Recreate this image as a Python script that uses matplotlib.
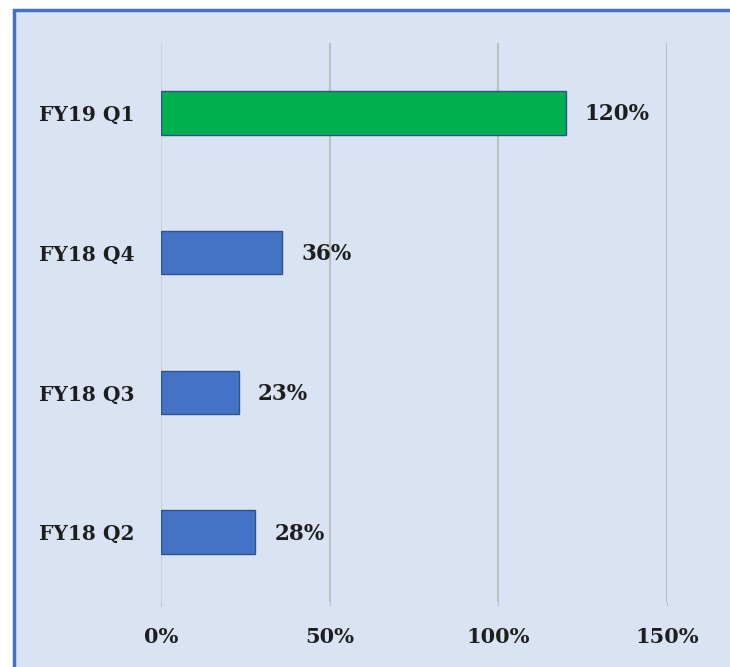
import matplotlib.pyplot as plt
from matplotlib.patches import Rectangle
from matplotlib.ticker import PercentFormatter

quarters = ['FY18 Q2', 'FY18 Q3', 'FY18 Q4', 'FY19 Q1']
values = [0.28, 0.23, 0.36, 1.20]
colors = ['#4472c4', '#4472c4', '#4472c4', '#00b050']

bg = '#dae3f3'
font = 'DejaVu Serif'

fig = plt.figure(figsize=(7.3, 6.67), dpi=100, facecolor='white')

# chart area frame (cut off at right and bottom like the screenshot)
fig.patches.append(Rectangle((14 / 730, -0.5), 2.0, 1.5 - 10 / 667,
                             transform=fig.transFigure, facecolor=bg,
                             edgecolor='#4472c4', linewidth=2.5, zorder=-5))

ax = fig.add_axes([161 / 730, 65 / 667, 506 / 730, 559 / 667])
ax.set_facecolor('none')

ax.barh(quarters, values, height=0.31, color=colors, edgecolor='#2f528f',
        linewidth=1.0, zorder=3)

for i, v in enumerate(values):
    ax.text(v + 0.056, i - 0.01, '{:.0f}%'.format(v * 100), va='center',
            ha='left', fontsize=15.5, fontweight='bold', family=font,
            color='#1e1e1e')

ax.set_xlim(0, 1.5)
ax.set_ylim(-0.5, 3.5)
ax.set_xticks([0, 0.5, 1.0, 1.5])
ax.xaxis.set_major_formatter(PercentFormatter(1.0, decimals=0))
ax.grid(axis='x', color='#bfbfbf', linewidth=1.5, zorder=0)
ax.get_xgridlines()[0].set_color('#d0d0d0')
ax.set_axisbelow(True)

for s in ax.spines.values():
    s.set_visible(False)

ax.tick_params(axis='x', length=3, color='#bfbfbf', pad=15, labelsize=15,
               labelcolor='#1e1e1e')
ax.tick_params(axis='y', length=0, pad=19, labelsize=14.5, labelcolor='#1e1e1e')
for lab in ax.get_xticklabels() + ax.get_yticklabels():
    lab.set_fontfamily(font)
    lab.set_fontweight('bold')

plt.savefig('out.png', dpi=100, facecolor=fig.get_facecolor())
